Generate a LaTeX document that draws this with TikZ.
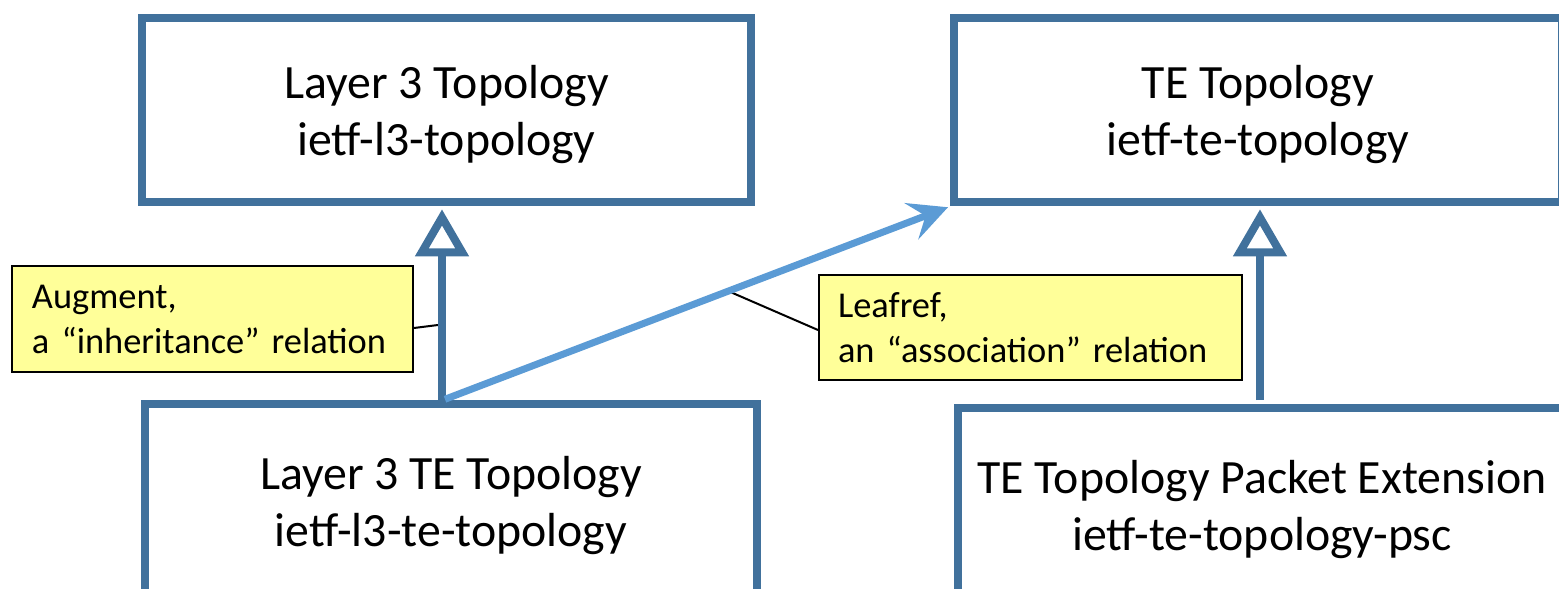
\documentclass[tikz,border=0pt]{standalone}
\usepackage{fontspec}
\setmainfont{Carlito}
\usetikzlibrary{arrows.meta,calc}
\definecolor{boxblue}{HTML}{41719C}
\definecolor{lightblue}{HTML}{5B9BD5}
\definecolor{noteyellow}{HTML}{FFFF99}
\begin{document}
\begin{tikzpicture}[x=0.5pt,y=-0.5pt,
  modbox/.style={draw=boxblue, line width=4pt, inner sep=0pt},
  modtext/.style={inner sep=0pt, align=center,
    font=\fontsize{23.9}{28.5}\selectfont},
  note/.style={draw=black, line width=1pt, fill=noteyellow, align=left,
    inner ysep=0pt, font=\fontsize{18.2}{22.5}\selectfont},
  inh/.style={draw=boxblue, line width=4pt,
    -{Triangle[open, length=23.5pt, width=26pt, line width=4pt]}},
  assoc/.style={draw=lightblue, line width=3.5pt,
    -{Stealth[length=19.5pt, width=19.3pt, inset=7.5pt]}},
  leader/.style={draw=black, line width=1pt}]
\useasboundingbox (0,0) rectangle (1559,589);
\clip (0,0) rectangle (1559,589);
% module boxes
\node[modbox, minimum width=304.5pt, minimum height=91.75pt] (l3) at (446.5,110) {};
\node[modbox, minimum width=304pt, minimum height=91.75pt] (te) at (1258,110) {};
\node[modbox, minimum width=306pt, minimum height=97.75pt] (l3te) at (451,502) {};
\node[modbox, minimum width=304pt, minimum height=98pt] (psc) at (1262,506) {};
\node[modtext] (l3t) at ($(l3.center)+(0,5)$) {Layer 3 Topology\\ietf-l3-topology};
\node[modtext] (tet) at ($(te.center)+(0,5)$) {TE Topology\\ietf-te-topology};
\node[modtext] (l3tet) at ($(l3te.center)+(0,4)$) {Layer 3 TE Topology\\ietf-l3-te-topology};
\node[modtext] (psct) at ($(psc.center)+(0,4)$) {TE Topology Packet Extension\\ietf-te-topology-psc};
% notes
\node[note, minimum width=200.5pt, minimum height=53pt, text width=180.5pt, inner xsep=10pt] (aug) at (212.5,319)
  {Augment,\\a “inheritance” relation};
\node[note, minimum width=211.5pt, minimum height=52.5pt, text width=192.5pt, inner xsep=9.5pt] (leaf) at (1030.5,327.5)
  {Leafref,\\an “association” relation};
% inheritance arrows
\coordinate (a1) at ($(l3.south)+(-4.5,3.5)$);
\coordinate (a2) at ($(te.south)+(2,3.5)$);
\draw[leader] ($(aug.east)+(0,9)$) -- ($(a1 |- aug.east)+(-4,6)$);
\draw[inh] (l3te.north -| a1) -- (a1);
\draw[inh] ($(psc.north -| a2)+(0,-4)$) -- (a2);
% association arrow
\coordinate (b0) at ($(l3te.north -| a1)+(3,-1)$);
\draw[leader] ($(b0)!0.56!(te.south west)$) -- ($(leaf.west)+(0,2.5)$);
\draw[assoc] (b0) -- ($(te.south west)+(-2,1.5)$);
\end{tikzpicture}
\end{document}
